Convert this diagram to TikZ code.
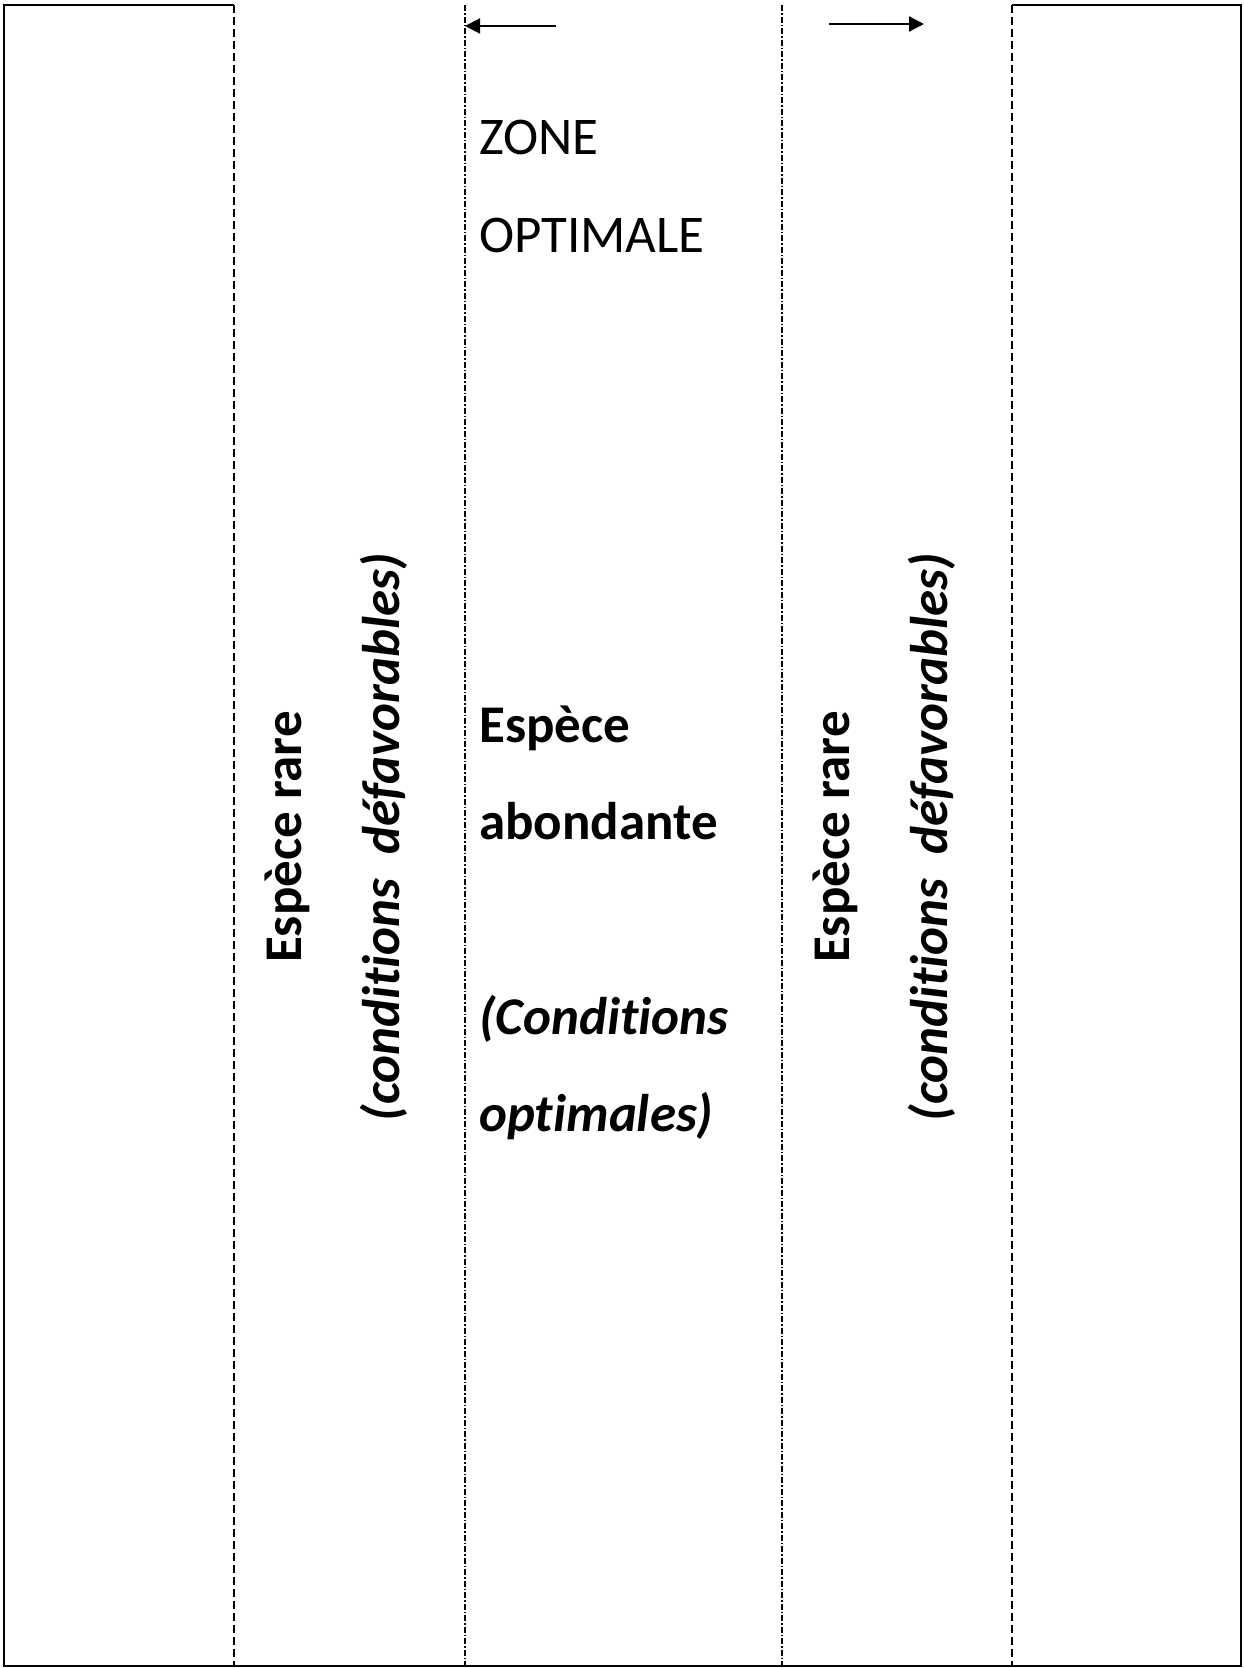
\documentclass[tikz,border=0pt]{standalone}
\usepackage{fontspec}
\setmainfont{Carlito}[Ligatures=NoCommon]
\usetikzlibrary{arrows.meta}
\tikzset{
  txt/.style={inner sep=0pt, font=\fontsize{53}{98}\selectfont},
  bigtxt/.style={txt, font=\fontsize{53}{98}\selectfont\bfseries},
  sidetxt/.style={bigtxt, rotate=90, anchor=base},
  outerline/.style={line width=1.3pt, dash pattern=on 8pt off 4pt},
  innerline/.style={line width=1.3pt, dash pattern=on 6pt off 2pt on 1.5pt off 2pt},
  frame/.style={line width=2pt},
  shift arrow/.style={line width=2pt, -{Triangle[length=15pt,width=15pt]}}
}
\begin{document}
\begin{tikzpicture}[x=1pt,y=-1pt]
                \useasboundingbox (0,0) rectangle (1244,1668);
                % frame
                \draw [frame] (234,5) -- (4,5) -- (4,1666) -- (1241,1666) -- (1241,5) -- (1012,5);
                \draw [outerline] (234,5) -- (234,1666);
                \draw [innerline] (465,5) -- (465,1666);
                \draw [innerline] (782,5) -- (782,1666);
                \draw [outerline] (1012,5) -- (1012,1666);
                % arrows
                \coordinate (lfrom) at (556,26);
                \coordinate (lto) at (465,26);
                \coordinate (rfrom) at (829,24);
                \coordinate (rto) at (924,24);
                \draw [shift arrow] (lfrom) -- (lto);
                \draw [shift arrow] (rfrom) -- (rto);
                % zone optimale
                \node [txt, anchor=base west] (zone) at (479,154) {ZONE};
                \node [txt, anchor=base west] (optimale) at (479,252) {OPTIMALE};
                \node [bigtxt, anchor=base west] (espece) at (479,742) {Espèce};
                \node [bigtxt, anchor=base west] (abondante) at (479,839) {abondante};
                \node [bigtxt, anchor=base west] (condopt) at (479,1034) {\itshape (Conditions};
                \node [bigtxt, anchor=base west] (optimales) at (479,1131) {\itshape optimales)};
                % sides
                \node [sidetxt] (rareL) at (301,837) {Espèce rare};
                \node [sidetxt] (defavL) at (399,837) {\itshape (conditions\hspace{0.45em}défavorables)};
                \node [sidetxt] (rareR) at (849,837) {Espèce rare};
                \node [sidetxt] (defavR) at (947,837) {\itshape (conditions\hspace{0.45em}défavorables)};
            \end{tikzpicture}
\end{document}
